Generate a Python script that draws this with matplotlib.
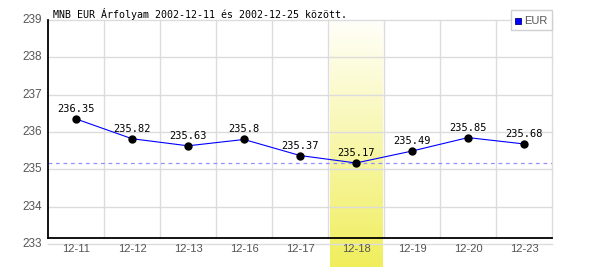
import numpy as np
import matplotlib
matplotlib.use("Agg")
import matplotlib.pyplot as plt

dates = ["12-11", "12-12", "12-13", "12-16", "12-17", "12-18", "12-19", "12-20", "12-23"]
eur = [236.35, 235.82, 235.63, 235.8, 235.37, 235.17, 235.49, 235.85, 235.68]
yticks = [233, 234, 235, 236, 237, 238, 239]
title = "MNB EUR Árfolyam 2002-12-11 és 2002-12-25 között."
highlight = "12-18"

W, H = 600, 270
fig = plt.figure(figsize=(W / 100, H / 100), dpi=100)
L, R, T, B = 48, 552, 20, 244
ax = fig.add_axes([L / W, 1 - B / H, (R - L) / W, (B - T) / H])
ax.set_xlim(-0.5, len(dates) - 0.5)
ax.set_ylim(233, 239)
for s in ax.spines.values():
    s.set_visible(False)
ax.tick_params(length=0)

x = np.arange(len(dates))
ppu = (B - T) / 6.0  # pixels per y unit

# highlight band with vertical gradient
hi = dates.index(highlight)
n = 256
top = np.array([255, 255, 250]) / 255
bot = np.array([240, 238, 92]) / 255
t = np.linspace(0, 1, n)[:, None]
grad = (top * (1 - t) + bot * t)[:, None, :]
ybot = 233 - (267 - B) / ppu
ax.imshow(grad, extent=(hi - 0.47, hi + 0.47, ybot, 239), aspect="auto",
          origin="upper", zorder=0, clip_on=False, interpolation="bilinear")

# grid
for yv in yticks:
    ax.plot([-0.5, len(dates) - 0.5], [yv, yv], color="#dcdcdc", lw=1.0, zorder=1,
            clip_on=False)
for xv in np.arange(0.5, len(dates) - 0.5 + 0.01, 1):
    ax.plot([xv, xv], [233.16, 239], color="#dcdcdc", lw=1.0, zorder=1, clip_on=False)

# axis lines
ax.plot([-0.5, len(dates) - 0.5], [233.16, 233.16], color="black", lw=1.3, zorder=3,
        clip_on=False)
ax.plot([-0.5, -0.5], [233.16, 239], color="black", lw=1.3, zorder=3, clip_on=False)

# min dashed line
ax.plot([-0.5, len(dates) - 0.5], [min(eur)] * 2, color="#9090ff", lw=0.9,
        dashes=(3, 3), zorder=2)

# series
ax.plot(x, eur, color="#0000ff", lw=0.8, zorder=4)
ax.plot(x, eur, "o", color="black", ms=5, zorder=5)
for xi, v in zip(x, eur):
    ax.annotate(f"{v:g}", (xi, v), xytext=(0, 10), textcoords="offset pixels",
                ha="center", va="center", fontsize=7.5, family="DejaVu Sans Mono",
                color="black", zorder=6)

ax.set_xticks([])
ax.set_yticks([])
for xi, d in zip(x, dates):
    ax.text(xi, 233 - 5 / ppu, d, ha="center", va="center", fontsize=8,
            family="Liberation Sans", color="#555555", clip_on=False)
for yv in yticks:
    ax.text(-0.5 - 6 / 56, yv, str(yv), ha="right", va="center", fontsize=8.5,
            family="Liberation Sans", color="#555555", clip_on=False)

fig.text(53 / W, 1 - 14 / H, title, ha="left", va="center", fontsize=7.2,
         family="DejaVu Sans Mono", color="black")

# legend
lx0, ly0, lx1, ly1 = 511, 10, 552, 30
fig.patches.append(plt.Rectangle((lx0 / W, 1 - ly1 / H), (lx1 - lx0) / W, (ly1 - ly0) / H,
                                 transform=fig.transFigure, facecolor="white",
                                 edgecolor="#d0d0d0", lw=1, zorder=10))
fig.patches.append(plt.Rectangle((515 / W, 1 - 24 / H), 6 / W, 6 / H,
                                 transform=fig.transFigure, facecolor="#0000ff",
                                 edgecolor="#000080", lw=0.6, zorder=11))
fig.text(524 / W, 1 - 21 / H, "EUR", ha="left", va="center", fontsize=8,
         family="Liberation Sans", color="#555555", zorder=12)

fig.savefig("out.png", dpi=100, facecolor="white")
